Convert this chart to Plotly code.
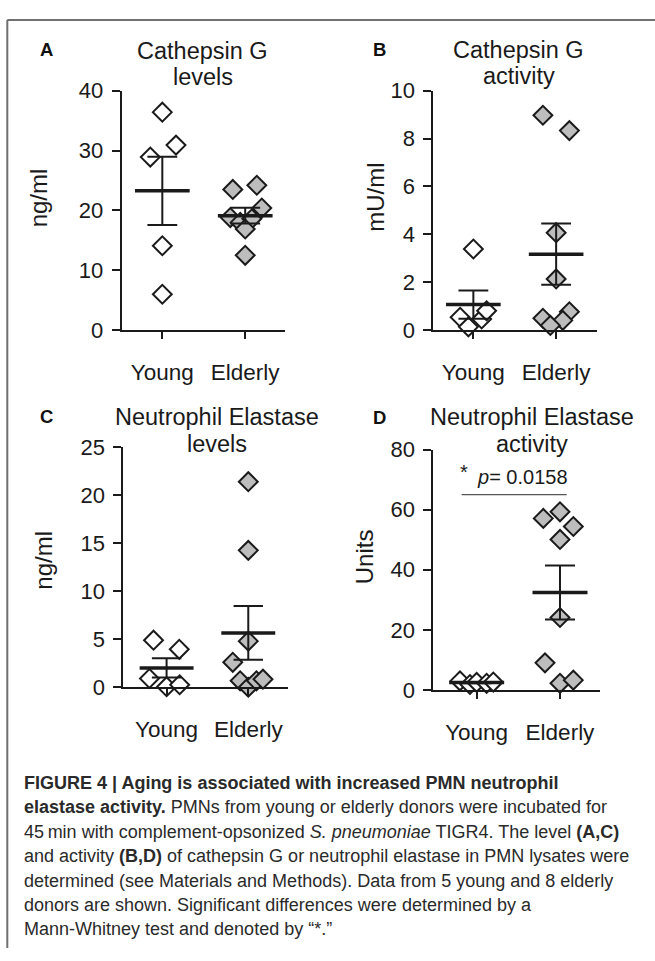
import numpy as np
import plotly.graph_objects as go

W, H = 655, 961

categories = ["Young", "Elderly"]

# Panel A: Cathepsin G levels (ng/ml)
a_young = [36.4, 30.9, 28.9, 14.1, 6.0]
a_elderly = [23.5, 24.2, 20.4, 18.8, 18.0, 18.6, 16.9, 12.5]
# Panel B: Cathepsin G activity (mU/ml)
b_young = [3.39, 0.54, 0.47, 0.81, 0.14]
b_elderly = [8.97, 8.33, 4.07, 2.14, 0.50, 0.77, 0.41, 0.20]
# Panel C: Neutrophil elastase levels (ng/ml)
c_young = [4.90, 3.95, 0.91, 0.06, 0.26]
c_elderly = [21.4, 14.25, 4.80, 2.60, 0.67, 0.00, 0.67, 0.84]
# Panel D: Neutrophil elastase activity (Units)
d_young = [3.0, 1.8, 2.5, 2.2, 2.6]
d_elderly = [57.1, 59.3, 54.4, 50.1, 24.1, 9.0, 2.2, 3.25]

# horizontal scatter (jitter) of each point, in category units
a_young_dx = [0, 0.165, -0.145, 0, 0]
a_elderly_dx = [-0.15, 0.14, 0.20, -0.18, -0.06, 0.08, 0, 0]
b_young_dx = [0, -0.16, 0.10, 0.16, -0.06]
b_elderly_dx = [-0.16, 0.16, 0, 0, -0.16, 0.16, 0.08, -0.07]
c_young_dx = [-0.16, 0.155, -0.21, 0, 0.16]
c_elderly_dx = [0, 0, 0, -0.19, -0.10, 0, 0.10, 0.18]
d_young_dx = [-0.20, -0.08, 0, 0.12, 0.20]
d_elderly_dx = [-0.20, 0, 0.16, 0, 0, -0.18, 0, 0.16]

titles = [["Cathepsin G", "levels"], ["Cathepsin G", "activity"],
          ["Neutrophil Elastase", "levels"], ["Neutrophil Elastase", "activity"]]
ytitles = ["ng/ml", "mU/ml", "ng/ml", "Units"]
letters = ["A", "B", "C", "D"]
yranges = [40, 10, 25, 80]
ydticks = [10, 2, 5, 20]

p_text = "<i>p</i>= 0.0158"
sig_y = 65
sig_x = [-0.18, 1.08]

data = [
    (a_young, a_young_dx, a_elderly, a_elderly_dx),
    (b_young, b_young_dx, b_elderly, b_elderly_dx),
    (c_young, c_young_dx, c_elderly, c_elderly_dx),
    (d_young, d_young_dx, d_elderly, d_elderly_dx),
]

# ---- layout geometry (pixels) ----
boxes = [(121.7, 285.0, 80.7, 326.7), (433.3, 596.7, 80.7, 326.7),
         (123.3, 288.3, 446.7, 693.3), (433.3, 600.0, 449.3, 696.0)]
xranges = [[-0.49, 1.48], [-0.484, 1.49], [-0.53, 1.49], [-0.52, 1.48]]
title_pos = [(202.5, 40.0, 66.5), (518.5, 39.5, 66.0), (216.5, 416.0, 443.5), (531.5, 416.0, 443.5)]
letter_pos = [(46.7, 38.5), (379.7, 38.5), (46.7, 415.0), (379.7, 416.0)]
ytitle_pos = [(38.3, 191), (374.8, 190), (43.3, 563), (364.8, 559)]

INK = "#1a1a1a"
FONT = "Liberation Sans, Arial, Helvetica, sans-serif"


def px(x):
    return x / W


def py(y):
    return 1 - y / H


fig = go.Figure()
annotations = []
shapes = []
layout = {}

for i in range(4):
    sfx = "" if i == 0 else str(i + 1)
    xa, ya = "x" + sfx, "y" + sfx
    young, ydx, eld, edx = data[i]
    x0, x1, y0, y1 = boxes[i]

    layout["xaxis" + sfx] = dict(
        domain=[px(x0), px(x1)], range=xranges[i], anchor=ya,
        tickmode="array", tickvals=[0, 1], ticktext=categories,
        showline=True, linewidth=2, linecolor=INK, ticks="outside",
        ticklen=7, tickwidth=2, tickcolor=INK, showgrid=False, zeroline=False,
        tickfont=dict(size=22.5, color=INK, family=FONT), ticklabelstandoff=14,
        fixedrange=True)
    layout["yaxis" + sfx] = dict(
        domain=[py(y1), py(y0)], range=[0, yranges[i]], anchor=xa,
        tickmode="linear", tick0=0, dtick=ydticks[i],
        showline=True, linewidth=2, linecolor=INK, ticks="outside",
        ticklen=8, tickwidth=2, tickcolor=INK, showgrid=False, zeroline=False,
        tickfont=dict(size=22, color=INK, family=FONT), ticklabelstandoff=4,
        fixedrange=True)

    for gi, (vals, dx, fill) in enumerate([(young, ydx, "white"), (eld, edx, "#bdbdbd")]):
        fig.add_trace(go.Scatter(
            x=[gi + d for d in dx], y=vals, mode="markers", xaxis=xa, yaxis=ya,
            marker=dict(symbol="diamond", size=14.5, color=fill,
                        line=dict(color=INK, width=2)),
            cliponaxis=False, showlegend=False, hoverinfo="skip"))

    mx, my, sx, sy = [], [], [], []
    for gi, vals in enumerate([young, eld]):
        v = np.array(vals, dtype=float)
        m = v.mean()
        s = v.std(ddof=1) / np.sqrt(len(v))
        mx += [gi - 0.33, gi + 0.33, None]
        my += [m, m, None]
        sx += [gi, gi, None, gi - 0.18, gi + 0.18, None, gi - 0.18, gi + 0.18, None]
        sy += [m - s, m + s, None, m + s, m + s, None, m - s, m - s, None]
    fig.add_trace(go.Scatter(x=sx, y=sy, mode="lines", xaxis=xa, yaxis=ya,
                             line=dict(color=INK, width=2), showlegend=False,
                             hoverinfo="skip", cliponaxis=False))
    fig.add_trace(go.Scatter(x=mx, y=my, mode="lines", xaxis=xa, yaxis=ya,
                             line=dict(color=INK, width=3.5), showlegend=False,
                             hoverinfo="skip", cliponaxis=False))

    tx, t1, t2 = title_pos[i]
    for txt, ty in zip(titles[i], (t1, t2)):
        annotations.append(dict(x=px(tx), y=py(ty), xref="paper", yref="paper",
                                text=txt, showarrow=False, xanchor="center", yanchor="middle",
                                borderpad=0,
                                font=dict(size=23.5, color=INK, family=FONT)))
    lx, ly = letter_pos[i]
    annotations.append(dict(x=px(lx), y=py(ly), xref="paper", yref="paper",
                            text="<b>%s</b>" % letters[i], showarrow=False,
                            xanchor="center", yanchor="middle",
                            font=dict(size=18.5, color="#111", family=FONT)))
    ax_, ay_ = ytitle_pos[i]
    annotations.append(dict(x=px(ax_), y=py(ay_), xref="paper", yref="paper",
                            text=ytitles[i], showarrow=False, textangle=-90,
                            xanchor="center", yanchor="middle",
                            font=dict(size=24, color=INK, family=FONT)))

# significance bar in panel D
fig.add_trace(go.Scatter(x=sig_x, y=[sig_y, sig_y], mode="lines", xaxis="x4", yaxis="y4",
                         line=dict(color="#555", width=1.3), showlegend=False,
                         hoverinfo="skip", cliponaxis=False))
annotations.append(dict(x=px(464), y=py(472), xref="paper", yref="paper", text="*",
                        showarrow=False, xanchor="center", yanchor="middle",
                        font=dict(size=20, color=INK, family=FONT)))
annotations.append(dict(x=px(522.5), y=py(477), xref="paper", yref="paper", text=p_text,
                        showarrow=False, xanchor="center", yanchor="middle",
                        font=dict(size=20, color=INK, family=FONT)))

caption = [
    "<b>FIGURE 4 | Aging is associated with increased PMN neutrophil</b>",
    "<b>elastase activity.</b> PMNs from young or elderly donors were incubated for",
    "45\u2009min with complement-opsonized <i>S. pneumoniae</i> TIGR4. The level <b>(A,C)</b>",
    "and activity <b>(B,D)</b> of cathepsin G or neutrophil elastase in PMN lysates were",
    "determined (see Materials and Methods). Data from 5 young and 8 elderly",
    "donors are shown. Significant differences were determined by a",
    "Mann-Whitney test and denoted by \u201c*.\u201d",
]
for k, line in enumerate(caption):
    annotations.append(dict(x=px(22), y=py(791.7 + 25 * k), xref="paper", yref="paper",
                            text=line, showarrow=False, xanchor="left", yanchor="middle",
                            font=dict(size=18, color="#2a2a2a", family=FONT)))

# outer frame (top and left edges)
shapes.append(dict(type="line", xref="paper", yref="paper", x0=px(7.3), x1=1.0,
                   y0=py(8.3), y1=py(8.3), line=dict(color="#707070", width=2)))
shapes.append(dict(type="line", xref="paper", yref="paper", x0=px(7.3), x1=px(7.3),
                   y0=py(8.3), y1=0, line=dict(color="#707070", width=2)))

fig.update_layout(
    width=W, height=H, margin=dict(l=0, r=0, t=0, b=0),
    paper_bgcolor="white", plot_bgcolor="white",
    font=dict(family=FONT, color=INK),
    annotations=annotations, shapes=shapes, showlegend=False,
    **layout)

fig.write_html(
    "out.html", config={"displayModeBar": False},
    post_script=("document.body.style.margin='0px';"
                 "document.body.style.overflow='hidden';"
                 "var gd=document.getElementById('{plot_id}');"
                 "gd.style.position='absolute';gd.style.top='0px';gd.style.left='0px';"))
